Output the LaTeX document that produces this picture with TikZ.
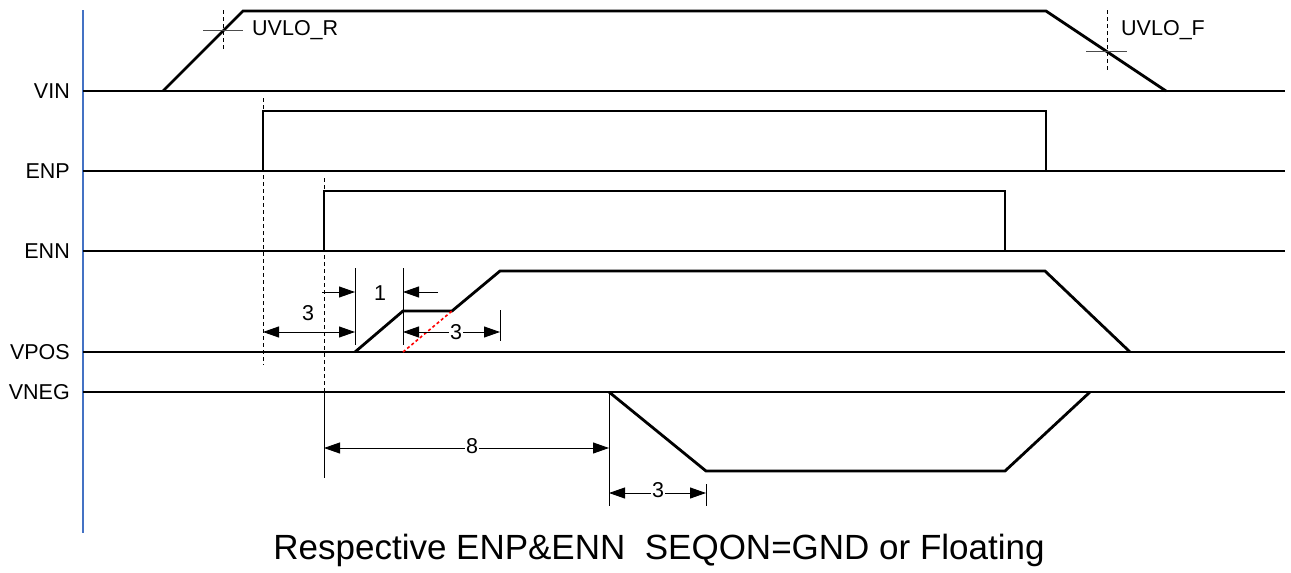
\documentclass[tikz,border=0pt]{standalone}
\usepackage{fontspec}
\setmainfont{Liberation Sans}
\usetikzlibrary{arrows.meta}
\definecolor{axisblue}{RGB}{68,114,196}
\begin{document}
\begin{tikzpicture}[x=1pt,y=-1pt,
  wave/.style={line width=2.8pt, line join=miter},
  baseline/.style={line width=1.3pt},
  axisline/.style={line width=2.2pt, draw=axisblue},
  guide/.style={line width=0.9pt, dash pattern=on 4pt off 3pt},
  ext/.style={line width=0.9pt},
  tick/.style={line width=0.9pt, draw=black!70},
  tip/.tip={Triangle[length=16pt,width=11pt]},
  dimboth/.style={line width=0.9pt, tip-tip},
  dimto/.style={line width=0.9pt, -tip},
  siglabel/.style={anchor=east, inner sep=0pt, font=\fontsize{21.5}{25}\selectfont},
  txt/.style={inner sep=0pt, font=\fontsize{21.5}{25}\selectfont},
  numlabel/.style={inner sep=1pt, fill=white, font=\fontsize{21.5}{25}\selectfont},
  redguide/.style={line width=1.6pt, draw=red, dash pattern=on 3pt off 2.5pt}
]
\useasboundingbox (0,0) rectangle (1291,573);

% axis
\coordinate (axT) at (83,10);
\coordinate (axB) at (83,533);
\draw[axisline] (axT) -- (axB);

% baselines and labels
\foreach \n/\y in {VIN/91,ENP/171,ENN/251,VPOS/352,VNEG/392}{
  \node[siglabel] (l\n) at (70,\y) {\n};
  \coordinate (s\n) at (83,\y);
  \coordinate (e\n) at (1285,\y);
  \draw[baseline] (s\n) -- (e\n);
}

% VIN
\draw[wave] (163,91) -- (243,11) -- (1046,11) -- (1166,91);
\draw[tick] (203,30) -- (243,30);
\draw[guide] (223,10) -- (223,49);
\node[txt, anchor=west] (uvlor) at (252,30) {UVLO\_R};
\draw[tick] (1086,51) -- (1127,51);
\draw[guide] (1107,10) -- (1107,71);
\node[txt, anchor=west] (uvlof) at (1121,30) {UVLO\_F};

% ENP
\draw[wave] (263,171) -- (263,111) -- (1046,111) -- (1046,171);
\draw[guide] (263,98) -- (263,365);

% ENN
\draw[wave] (324,251) -- (324,191) -- (1005,191) -- (1005,251);
\draw[guide] (324,178) -- (324,392);
\draw[ext] (324,392) -- (324,478);

% VPOS
\draw[wave] (355,352) -- (403,311) -- (452,311) -- (500,271) -- (1045,271) -- (1130,352);
\draw[redguide] (403,352) -- (452,311);

% dimension "1"
\coordinate (d1a) at (355,292);
\coordinate (d1b) at (403,292);
\draw[ext] (355,268) -- (355,345);
\draw[ext] (403,268) -- (403,345);
\draw[dimto] (322,292) -- (d1a);
\draw[dimto] (438,292) -- (d1b);
\node[txt] (n1) at (380,293) {1};

% dimension "3" left
\coordinate (d3a) at (263,332);
\coordinate (d3b) at (355,332);
\draw[dimboth] (d3a) -- (d3b);
\node[txt] (n3a) at (308,313) {3};

% dimension "3" right
\coordinate (d3c) at (403,332);
\coordinate (d3d) at (500,332);
\draw[ext] (500,310) -- (500,341);
\draw[dimboth] (d3c) -- (d3d);
\node[numlabel] (n3b) at (456,332) {3};

% VNEG
\draw[wave] (609,392) -- (706,471) -- (1005,471) -- (1090,392);
\draw[ext] (609,392) -- (609,506);
\draw[ext] (706,484) -- (706,506);

% dimension "8"
\coordinate (d8a) at (324,448);
\coordinate (d8b) at (609,448);
\draw[dimboth] (d8a) -- (d8b);
\node[numlabel] (n8) at (472,446) {8};

% dimension "3" bottom
\coordinate (d3e) at (609,493);
\coordinate (d3f) at (706,493);
\draw[dimboth] (d3e) -- (d3f);
\node[numlabel] (n3c) at (658,490) {3};

% caption
\node[inner sep=0pt, font=\fontsize{35}{40}\selectfont] (cap) at (659,550) {Respective ENP\&ENN\ \ SEQON=GND or Floating};
\end{tikzpicture}
\end{document}
